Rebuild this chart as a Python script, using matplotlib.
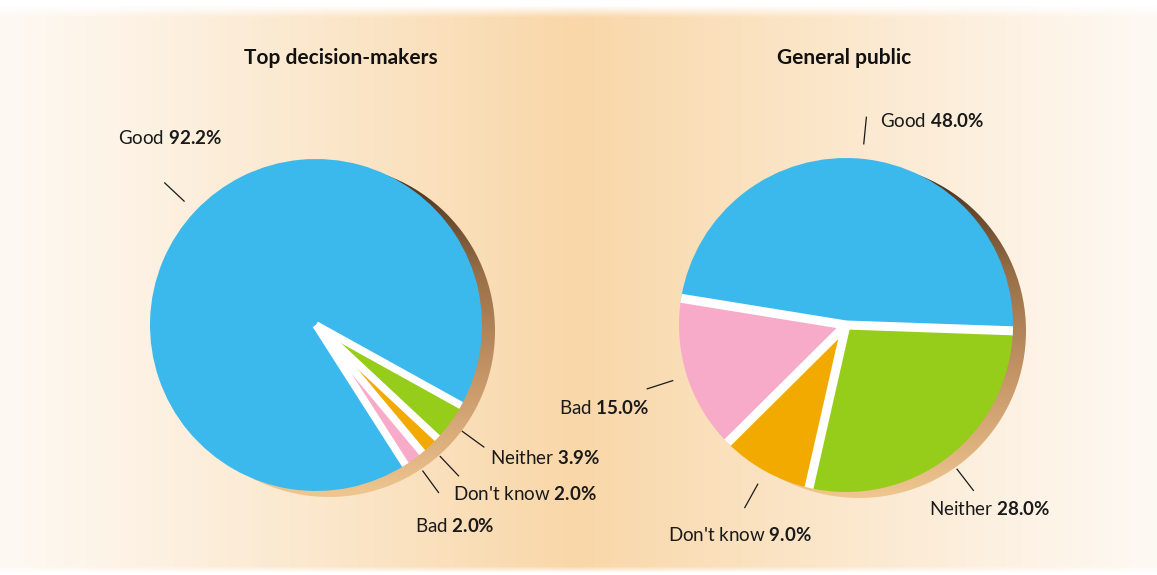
import numpy as np
import matplotlib
matplotlib.use('Agg')
import matplotlib.pyplot as plt
from matplotlib.patches import Circle
from matplotlib.colors import LinearSegmentedColormap

plt.rcParams['font.family'] = ['Lato', 'DejaVu Sans']
plt.rcParams['mathtext.fontset'] = 'custom'
plt.rcParams['mathtext.rm'] = 'Lato'
plt.rcParams['mathtext.bf'] = 'Lato:bold'

# data
categories = ['Good', 'Bad', "Don't know", 'Neither']
decision_makers = [92.2, 2.0, 2.0, 3.9]
general_public = [48.0, 15.0, 9.0, 28.0]
colors = ['#3bb9ec', '#f7abc8', '#f2aa00', '#96cc1a']

W, H = 1157, 575
fig = plt.figure(figsize=(W / 100, H / 100), dpi=100)
ax = fig.add_axes([0, 0, 1, 1])

# background: peach in the middle fading to white at the sides
xs = np.linspace(0, 1, 400)
t = np.clip(1 - np.abs(xs - 0.5) / 0.5, 0, 1) ** 1.1
edge = np.array([254, 249, 243]) / 255
mid = np.array([249, 215, 168]) / 255
row = edge + (mid - edge) * t[:, None]
ys = np.arange(H)
vy = np.clip((H - 1 - ys - 5) / 12, 0, 1)       # top white band
vb = np.clip((ys - 2) / 6, 0, 1)                 # thin bottom band
v = (vy * vb)[:, None, None]
bg = 1 - v * (1 - row[None, :, :])
ax.imshow(bg, extent=[0, W, 0, H], origin='lower', aspect='auto', zorder=0)

shadow_cmap = LinearSegmentedColormap.from_list(
    'sh', ['#efc690', '#c9996a', '#9a7048', '#3f2a18'])


def draw_pie(vals, cx, cy, r, start, gap, title, label_pos):
    # shadow
    sx, sy = cx + 13, cy - 6
    circ = Circle((sx, sy), r, fc='none', ec='none')
    ax.add_patch(circ)
    grad = np.linspace(0, 1, 200)[:, None] * np.ones((1, 2))
    im = ax.imshow(grad, extent=[sx - r, sx + r, sy - r, sy + r], origin='lower',
                   cmap=shadow_cmap, aspect='auto', zorder=1)
    im.set_clip_path(circ)

    wedges, _ = ax.pie(vals, colors=colors, startangle=start, counterclock=True,
                       center=(cx, cy), radius=r, wedgeprops=dict(linewidth=0))
    for w in wedges:
        w.set_zorder(2)
        a = np.deg2rad(w.theta1)
        ax.plot([cx, cx + r * np.cos(a)], [cy, cy + r * np.sin(a)], color='white',
                lw=gap, solid_capstyle='butt', zorder=3)

    for w, name, v, (tx, ty) in zip(wedges, categories, vals, label_pos):
        a = np.deg2rad((w.theta1 + w.theta2) / 2)
        c, s = np.cos(a), np.sin(a)
        ax.plot([cx + 1.09 * r * c, cx + 1.25 * r * c],
                [cy + 1.09 * r * s, cy + 1.25 * r * s],
                color='#1a1a1a', lw=0.9, zorder=5)
        ax.text(tx, H - ty, name + r' $\mathbf{%.1f\%%}$' % v,
                ha='center', va='center', fontsize=13.5, color='#1a1a1a', zorder=5)
    ax.text(title[1], H - 58, title[0], ha='center', va='center',
            fontsize=15, fontweight='bold', color='#111111')


draw_pie(decision_makers, 316, H - 325, 166, -29, 5.5,
         ('Top decision-makers', 341),
         [(170, 138), (455, 526), (525, 494), (545, 458)])
draw_pie(general_public, 846, H - 325, 167, -2, 6.5,
         ('General public', 844),
         [(932, 121), (604, 408), (740, 535), (990, 509)])

ax.set_xlim(0, W)
ax.set_ylim(0, H)
ax.set_aspect('auto')
ax.axis('off')

fig.savefig('out.png', dpi=100)
